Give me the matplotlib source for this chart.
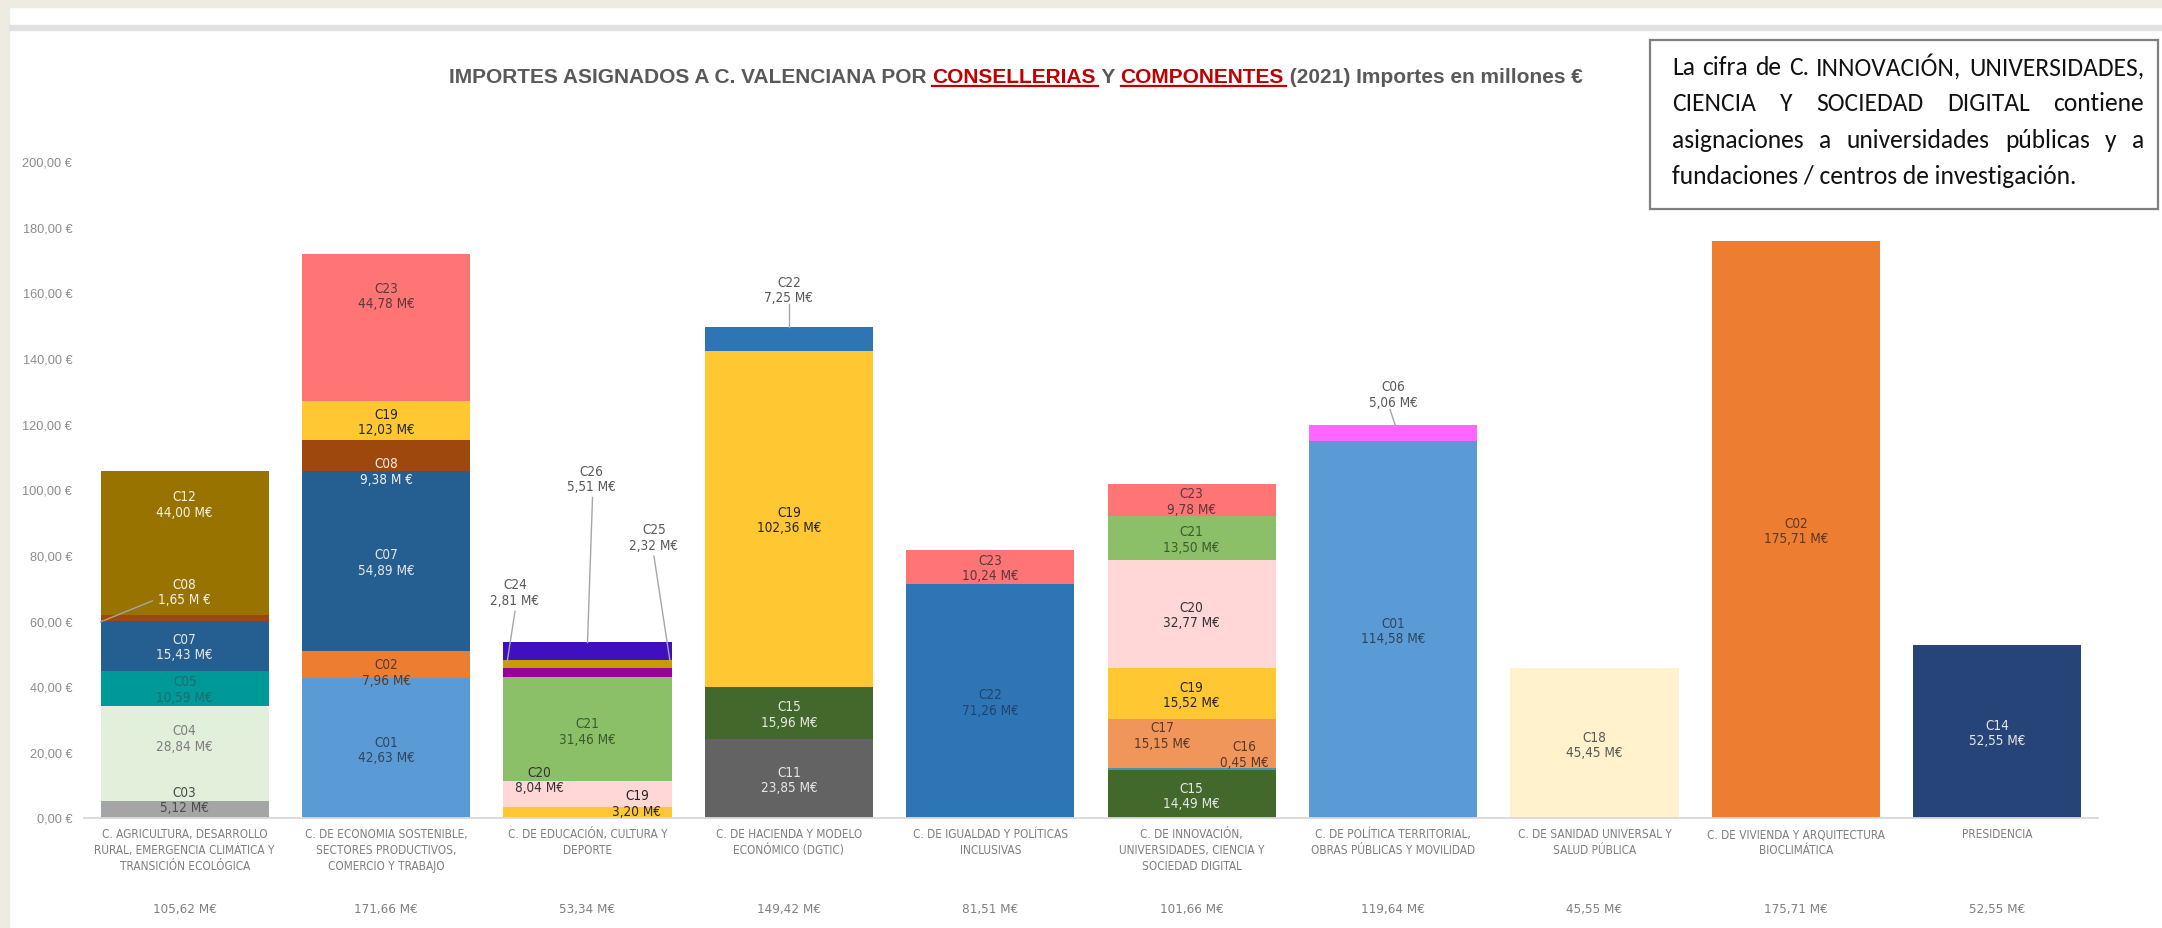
import os
import matplotlib
matplotlib.use("Agg")
import matplotlib.pyplot as plt
from matplotlib import font_manager
from matplotlib.font_manager import FontProperties
from matplotlib.patches import Rectangle
from matplotlib.lines import Line2D
from matplotlib.transforms import IdentityTransform, blended_transform_factory

# ---------------- data ----------------
categories = [
    "C. AGRICULTURA, DESARROLLO\nRURAL, EMERGENCIA CLIMÁTICA Y\nTRANSICIÓN ECOLÓGICA",
    "C. DE ECONOMIA SOSTENIBLE,\nSECTORES PRODUCTIVOS,\nCOMERCIO Y TRABAJO",
    "C. DE EDUCACIÓN, CULTURA Y\nDEPORTE",
    "C. DE HACIENDA Y MODELO\nECONÓMICO (DGTIC)",
    "C. DE IGUALDAD Y POLÍTICAS\nINCLUSIVAS",
    "C. DE INNOVACIÓN,\nUNIVERSIDADES, CIENCIA Y\nSOCIEDAD DIGITAL",
    "C. DE POLÍTICA TERRITORIAL,\nOBRAS PÚBLICAS Y MOVILIDAD",
    "C. DE SANIDAD UNIVERSAL Y\nSALUD PÚBLICA",
    "C. DE VIVIENDA Y ARQUITECTURA\nBIOCLIMÁTICA",
    "PRESIDENCIA",
]
totals_text = ["105,62 M€", "171,66 M€", "53,34 M€", "149,42 M€", "81,51 M€",
               "101,66 M€", "119,64 M€", "45,55 M€", "175,71 M€", "52,55 M€"]

agricultura_comp = ["C03", "C04", "C05", "C07", "C08", "C12"]
agricultura_vals = [5.12, 28.84, 10.59, 15.43, 1.65, 44.00]
economia_comp = ["C01", "C02", "C07", "C08", "C19", "C23"]
economia_vals = [42.63, 7.96, 54.89, 9.38, 12.03, 44.78]
educacion_comp = ["C19", "C20", "C21", "C24", "C25", "C26"]
educacion_vals = [3.20, 8.04, 31.46, 2.81, 2.32, 5.51]
hacienda_comp = ["C11", "C15", "C19", "C22"]
hacienda_vals = [23.85, 15.96, 102.36, 7.25]
igualdad_comp = ["C22", "C23"]
igualdad_vals = [71.26, 10.24]
innovacion_comp = ["C15", "C16", "C17", "C19", "C20", "C21", "C23"]
innovacion_vals = [14.49, 0.45, 15.15, 15.52, 32.77, 13.50, 9.78]
politica_comp = ["C01", "C06"]
politica_vals = [114.58, 5.06]
sanidad_comp = ["C18"]
sanidad_vals = [45.45]
vivienda_comp = ["C02"]
vivienda_vals = [175.71]
presidencia_comp = ["C14"]
presidencia_vals = [52.55]

comps = [agricultura_comp, economia_comp, educacion_comp, hacienda_comp, igualdad_comp,
         innovacion_comp, politica_comp, sanidad_comp, vivienda_comp, presidencia_comp]
vals = [agricultura_vals, economia_vals, educacion_vals, hacienda_vals, igualdad_vals,
        innovacion_vals, politica_vals, sanidad_vals, vivienda_vals, presidencia_vals]

# ---------------- label placement (positions, not data) ----------------
label_y = [
    [5.5, 24.2, 39.1, 52.1, 68.9, 95.5],
    [20.7, 44.3, 77.8, 105.5, 120.6, 159.1],
    [4.4, 11.6, 26.3, 68.7, 85.4, 103.2],
    [11.5, 31.5, 90.8, 160.8],
    [35.2, 76.1],
    [6.7, 19.3, 25.2, 37.5, 61.8, 84.9, 96.4],
    [56.9, 129.0],
    [22.3],
    [87.5],
    [25.9],
]
label_dx = {(2, "C19"): 0.245, (2, "C20"): -0.24, (2, "C24"): -0.36, (2, "C25"): 0.33,
            (2, "C26"): 0.02, (5, "C16"): 0.26, (5, "C17"): -0.145}
leaders = {
    (0, "C08"): ((-0.418, 59.6), (-0.16, 66.0)),
    (2, "C24"): ((-0.36, 62.8), (-0.40, 47.0)),
    (2, "C26"): ((0.025, 97.5), (0.0, 53.3)),
    (2, "C25"): ((0.33, 79.6), (0.41, 47.5)),
    (3, "C22"): ((0.0, 156.5), (0.0, 149.4)),
    (6, "C06"): ((-0.015, 124.3), (0.01, 119.6)),
}
outside_labels = {(2, "C24"), (2, "C25"), (2, "C26"), (3, "C22"), (6, "C06")}

# ---------------- styles ----------------
COLORS = {
    "C01": "#5B9BD5", "C02": "#ED7D31", "C03": "#A5A5A5", "C04": "#E2EFDA", "C05": "#009999",
    "C06": "#FF66FF", "C07": "#255E91", "C08": "#9E480E", "C11": "#636363", "C12": "#997300",
    "C14": "#264478", "C15": "#43682B", "C16": "#4F8FBF", "C17": "#F0965A", "C18": "#FFF2CC",
    "C19": "#FFC832", "C20": "#FFD7D7", "C21": "#8CC068", "C22": "#2E75B6", "C23": "#FF7575",
    "C24": "#990099", "C25": "#CC9900", "C26": "#4010C0",
}
TEXT_COL = {
    "C01": "#2F4660", "C02": "#5A3A28", "C03": "#4D4D4D", "C04": "#7F7F7F", "C05": "#1B6E6E",
    "C06": "#595959", "C07": "#E6E6E6", "C08": "#F0F0F0", "C11": "#E6E6E6", "C12": "#F5F0E0",
    "C14": "#E6E6E6", "C15": "#E6E6E6", "C16": "#5A3A28", "C17": "#5A3A28", "C18": "#595959",
    "C19": "#262626", "C20": "#333333", "C21": "#3D5A2E", "C22": "#22446E", "C23": "#5A3A3A",
    "C24": "#595959", "C25": "#595959", "C26": "#595959",
}

ttf = font_manager.fontManager.ttflist
available = {f.name for f in ttf}


def pick(*names):
    for n in names:
        if n in available:
            return n
    return "DejaVu Sans"


def find_file(*patterns):
    for p in patterns:
        for f in ttf:
            if os.path.basename(f.fname).lower() == p.lower():
                return f.fname
    return None


narrow_file = find_file("LiberationSansNarrow-Regular.ttf", "DejaVuSansCondensed.ttf",
                        "NotoSans-Condensed.ttf", "NotoSans-SemiCondensed.ttf",
                        "RobotoCondensed-Regular.ttf", "OpenSans-CondensedRegular.ttf")
SANS = pick("Liberation Sans", "DejaVu Sans")


def fp_narrow(size):
    if narrow_file:
        return FontProperties(fname=narrow_file, size=size)
    return FontProperties(family=SANS, size=size)


BOXFONT = pick("Carlito", "Lato", "Open Sans", "DejaVu Sans")

W, H = 2162, 929
fig = plt.figure(figsize=(W / 100, H / 100), dpi=100)
fig.patch.set_facecolor("white")
ident = IdentityTransform()
renderer = fig.canvas.get_renderer()


def adv(s, **kw):
    t = fig.text(0, 0, s + "|", transform=ident, **kw)
    w1 = t.get_window_extent(renderer).width
    t.set_text("|")
    w2 = t.get_window_extent(renderer).width
    t.remove()
    return w1 - w2


def fit_narrow(sample, target, base=10.0):
    w = adv(sample, fontproperties=fp_narrow(base))
    return base * target / w


# page decorations
fig.add_artist(Rectangle((0, H - 8), W, 8, transform=ident, color="#EEEBE3", zorder=-10))
fig.add_artist(Rectangle((0, 0), 9, H, transform=ident, color="#EEEBE3", zorder=-10))
fig.add_artist(Rectangle((9, H - 31), W, 5, transform=ident, color="#E0E0E0", zorder=-10))

# axes
x0, x1 = 84, 2098
y0, y1 = 818.5, 162
ax = fig.add_axes([x0 / W, (H - y0) / H, (x1 - x0) / W, (y0 - y1) / H])
ax.set_xlim(-0.5, 9.5)
ax.set_ylim(0, 200)
ax.patch.set_alpha(0)
for s in ["top", "right", "left"]:
    ax.spines[s].set_visible(False)
ax.spines["bottom"].set_color("#D9D9D9")
ax.spines["bottom"].set_linewidth(1.3)

# y ticks
yfs = 9.0 * 50.0 / adv("200,00 €", fontfamily=SANS, fontsize=9.0)
ax.set_yticks(range(0, 201, 20))
ax.set_yticklabels([f"{v:.2f}".replace(".", ",") + " €" for v in range(0, 201, 20)])
ax.tick_params(axis="y", length=0, pad=8.5, labelsize=yfs, labelcolor="#8C8C8C")
for t in ax.get_yticklabels():
    t.set_fontfamily(SANS)

# x ticks (category names)
cfs = fit_narrow("C. AGRICULTURA, DESARROLLO", 166.0)
cfs_px = cfs * 100 / 72
ax.set_xticks(range(len(categories)))
ax.set_xticklabels(categories, color="#7F7F7F", linespacing=18.0 / (cfs_px * 1.17))
for t in ax.get_xticklabels():
    t.set_fontproperties(fp_narrow(cfs))
ax.tick_params(axis="x", length=0, pad=7)

# bars + segment labels
sfs = fit_narrow("44,00 M€", 57.0)
sfs_px = sfs * 100 / 72
BAR_W = 0.835
for i, (cl, vl) in enumerate(zip(comps, vals)):
    bottom = 0.0
    for j, (c, v) in enumerate(zip(cl, vl)):
        ax.bar(i, v, bottom=bottom, width=BAR_W, color=COLORS[c], edgecolor="none", zorder=2)
        bottom += v
        suffix = " M €" if c == "C08" else " M€"
        txt = f"{c}\n" + f"{v:.2f}".replace(".", ",") + suffix
        key = (i, c)
        col = "#595959" if key in outside_labels else TEXT_COL[c]
        ax.text(i + label_dx.get(key, 0.0), label_y[i][j], txt, ha="center", va="center",
                fontproperties=fp_narrow(sfs), color=col,
                linespacing=18.0 / (sfs_px * 1.17), zorder=4)
        if key in leaders:
            (ax_, ay_), (bx_, by_) = leaders[key]
            ax.add_line(Line2D([i + ax_, i + bx_], [ay_, by_], color="#A6A6A6", lw=1.0, zorder=5))

# totals row
tfs_tot = fit_narrow("105,62 M€", 64.0)
bt = blended_transform_factory(ax.transData, ident)
for i, t in enumerate(totals_text):
    ax.text(i, H - 910, t, transform=bt, ha="center", va="center",
            fontproperties=fp_narrow(tfs_tot), color="#808080", clip_on=False)

# ---------------- title ----------------
title_parts = [
    ("IMPORTES ASIGNADOS A C. VALENCIANA POR ", "#595959", False),
    ("CONSELLERIAS", "#C00000", True),
    (" Y ", "#595959", False),
    ("COMPONENTES", "#C00000", True),
    (" (2021) Importes en millones €", "#595959", False),
]
tkw = dict(fontfamily=SANS, fontweight="bold")
full = "".join(p[0] for p in title_parts)
base = 14.0
tw = adv(full, fontsize=base, **tkw)
tfs = base * (1137.0 / tw)
tx = 449.0
tbase = H - 83.0
for s, col, und in title_parts:
    fig.text(tx, tbase, s, transform=ident, fontsize=tfs, color=col, ha="left",
             va="baseline", **tkw)
    w = adv(s, fontsize=tfs, **tkw)
    if und:
        fig.add_artist(Line2D([tx, tx + w + 2], [tbase - 3.5, tbase - 3.5], transform=ident,
                              color="#C00000", lw=1.6))
    tx += w

# ---------------- note box ----------------
bx0, bx1, by_top, by_bot = 1650, 2158, 41, 210
fig.add_artist(Rectangle((bx0, H - by_bot), bx1 - bx0, by_bot - by_top, transform=ident,
                         facecolor="white", edgecolor="#7F7F7F", lw=1.6, zorder=6))
box_lines = [
    ("La cifra de C. INNOVACIÓN, UNIVERSIDADES,", True),
    ("CIENCIA Y SOCIEDAD DIGITAL contiene", True),
    ("asignaciones a universidades públicas y a", True),
    ("fundaciones / centros de investigación.", False),
]
bkw = dict(fontfamily=BOXFONT)
txl, txr = 1672.0, 2144.0
bw = adv(box_lines[0][0], fontsize=17, **bkw)
bfs = 17 * ((txr - txl) * 0.985 / bw)
line_centers = [66, 102, 139, 175]
for (line, just), yc in zip(box_lines, line_centers):
    yb = H - yc - 0.36 * bfs * 100 / 72
    if just:
        words = line.split(" ")
        widths = [adv(w, fontsize=bfs, **bkw) for w in words]
        gap = ((txr - txl) - sum(widths)) / (len(words) - 1)
        x = txl
        for w, wd in zip(words, widths):
            fig.text(x, yb, w, transform=ident, fontsize=bfs, color="#111111",
                     va="baseline", ha="left", zorder=7, **bkw)
            x += wd + gap
    else:
        fig.text(txl, yb, line, transform=ident, fontsize=bfs, color="#111111",
                 va="baseline", ha="left", zorder=7, **bkw)

fig.savefig("out.png", dpi=100)
